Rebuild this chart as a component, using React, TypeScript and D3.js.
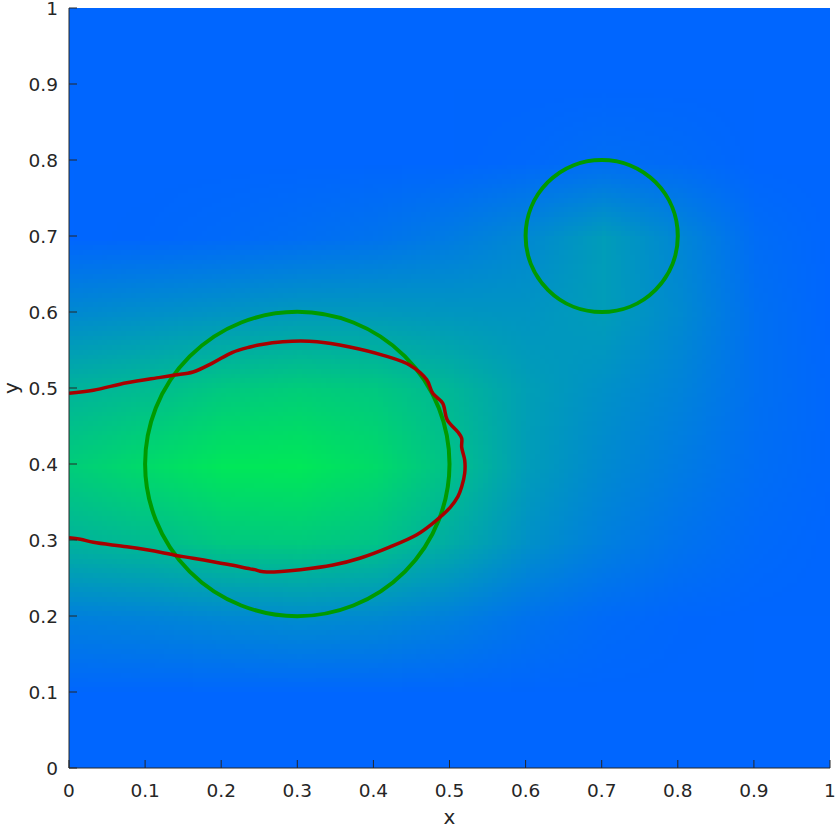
import React, { useMemo } from "react";
import * as d3 from "d3";

const W = 837;
const H = 828;
const M = { left: 69, right: 7, top: 8, bottom: 60 };

// Field grid: rows from y=1.0 (top) to y=0.0 (bottom), cols x=0..1 step 0.1
const gridX = [0, 0.1, 0.2, 0.3, 0.4, 0.5, 0.6, 0.7, 0.8, 0.9, 1.0];
const gridY = [1.0, 0.9, 0.8, 0.7, 0.6, 0.5, 0.4, 0.3, 0.2, 0.1, 0.0];
const field = [
  [0, 0, 0, 0, 0, 0, 0, 0, 0, 0, 0],
  [0, 0, 0, 0, 0, 0, 0, 0, 0, 0, 0],
  [0, 0, 0, 0, 0, 0, 0.02, 0.06, 0.04, 0, 0],
  [0, 0.01, 0.03, 0.06, 0.1, 0.17, 0.27, 0.42, 0.25, 0.05, 0],
  [0.28, 0.32, 0.36, 0.4, 0.4, 0.38, 0.36, 0.42, 0.28, 0.08, 0],
  [0.6, 0.66, 0.76, 0.8, 0.76, 0.62, 0.44, 0.33, 0.22, 0.08, 0.01],
  [0.8, 0.9, 0.99, 1.0, 0.9, 0.7, 0.42, 0.28, 0.17, 0.06, 0.01],
  [0.6, 0.66, 0.76, 0.78, 0.72, 0.54, 0.33, 0.2, 0.1, 0.03, 0],
  [0.2, 0.22, 0.26, 0.29, 0.27, 0.2, 0.1, 0.04, 0.01, 0, 0],
  [0, 0, 0, 0, 0, 0, 0, 0, 0, 0, 0],
  [0, 0, 0, 0, 0, 0, 0, 0, 0, 0, 0],
];

const circleCx = [0.3, 0.7];
const circleCy = [0.4, 0.7];
const circleR = [0.2, 0.1];

const contourX = [
  0, 0.032, 0.076, 0.12, 0.139, 0.163, 0.189, 0.215, 0.238, 0.251, 0.281, 0.326, 0.369, 0.413,
  0.448, 0.47, 0.478, 0.491, 0.497, 0.511, 0.516, 0.516, 0.52, 0.52, 0.516, 0.511, 0.501, 0.478,
  0.457, 0.422, 0.382, 0.347, 0.304, 0.26, 0.251, 0.244, 0.238, 0.208, 0.163, 0.139, 0.12, 0.076,
  0.032, 0.015, 0,
];
const contourY = [
  0.493, 0.497, 0.507, 0.514, 0.517, 0.521, 0.533, 0.547, 0.554, 0.557, 0.561, 0.561, 0.554, 0.543,
  0.53, 0.511, 0.493, 0.48, 0.458, 0.442, 0.434, 0.422, 0.405, 0.388, 0.37, 0.357, 0.343, 0.322,
  0.307, 0.291, 0.276, 0.267, 0.261, 0.258, 0.259, 0.261, 0.262, 0.268, 0.276, 0.28, 0.284, 0.291,
  0.297, 0.301, 0.303,
];

const xTicks = [0, 0.1, 0.2, 0.3, 0.4, 0.5, 0.6, 0.7, 0.8, 0.9, 1];
const yTicks = [0, 0.1, 0.2, 0.3, 0.4, 0.5, 0.6, 0.7, 0.8, 0.9, 1];

const color = d3.interpolateRgb("rgb(0,102,255)", "rgb(0,232,88)");

export default function App() {
  const x = d3.scaleLinear().domain([0, 1]).range([M.left, W - M.right]);
  const y = d3.scaleLinear().domain([0, 1]).range([H - M.bottom, M.top]);

  const dataUrl = useMemo(() => {
    const c = document.createElement("canvas");
    c.width = gridX.length;
    c.height = gridY.length;
    const ctx = c.getContext("2d");
    if (!ctx) return "";
    const img = ctx.createImageData(c.width, c.height);
    field.forEach((row, j) => {
      row.forEach((v, i) => {
        const col = d3.rgb(color(v));
        const k = (j * c.width + i) * 4;
        img.data[k] = col.r;
        img.data[k + 1] = col.g;
        img.data[k + 2] = col.b;
        img.data[k + 3] = 255;
      });
    });
    ctx.putImageData(img, 0, 0);
    return c.toDataURL();
  }, []);

  const half = 0.05;
  const line = d3
    .line<number>()
    .x((_, i) => x(contourX[i]))
    .y((_, i) => y(contourY[i]))
    .curve(d3.curveCatmullRom.alpha(0.5));
  const pts = contourX.map((v) => v);

  const axisColor = "#262626";
  const fs = 18.5;

  return (
    <div style={{ position: "absolute", left: 0, top: 0 }}>
      <svg width={W} height={H} style={{ display: "block" }} fontFamily="DejaVu Sans, sans-serif">
        <defs>
          <clipPath id="plot">
            <rect x={x(0)} y={y(1)} width={x(1) - x(0)} height={y(0) - y(1)} />
          </clipPath>
        </defs>
        <g clipPath="url(#plot)">
          <image
            href={dataUrl}
            x={x(-half)}
            y={y(1 + half)}
            width={x(1 + half) - x(-half)}
            height={y(-half) - y(1 + half)}
            preserveAspectRatio="none"
            style={{ imageRendering: "auto" }}
          />
          {circleCx.map((cx, i) => (
            <circle
              key={i}
              cx={x(cx)}
              cy={y(circleCy[i])}
              r={x(circleR[i]) - x(0)}
              fill="none"
              stroke="#009a00"
              strokeWidth={4}
            />
          ))}
          <path d={line(pts) || ""} fill="none" stroke="#a80000" strokeWidth={3.5} strokeLinejoin="round" />
        </g>
        {/* axes */}
        <line x1={x(0)} x2={x(0)} y1={y(0)} y2={y(1)} stroke={axisColor} strokeWidth={1} />
        <line x1={x(0)} x2={x(1)} y1={y(0)} y2={y(0)} stroke={axisColor} strokeWidth={1} />
        {xTicks.map((t) => (
          <g key={"x" + t}>
            <line x1={x(t)} x2={x(t)} y1={y(0)} y2={y(0) - 8} stroke={axisColor} />
            <text x={x(t)} y={y(0) + 29} textAnchor="middle" fontSize={fs} fill={axisColor}>
              {String(t)}
            </text>
          </g>
        ))}
        {yTicks.map((t) => (
          <g key={"y" + t}>
            <line x1={x(0)} x2={x(0) + 8} y1={y(t)} y2={y(t)} stroke={axisColor} />
            <text x={x(0) - 11} y={y(t) + 7} textAnchor="end" fontSize={fs} fill={axisColor}>
              {String(t)}
            </text>
          </g>
        ))}
        <text x={(x(0) + x(1)) / 2} y={H - 4} textAnchor="middle" fontSize={20} fill={axisColor}>
          x
        </text>
        <text
          transform={`translate(18,${(y(0) + y(1)) / 2}) rotate(-90)`}
          textAnchor="middle"
          fontSize={20}
          fill={axisColor}
        >
          y
        </text>
      </svg>
    </div>
  );
}
